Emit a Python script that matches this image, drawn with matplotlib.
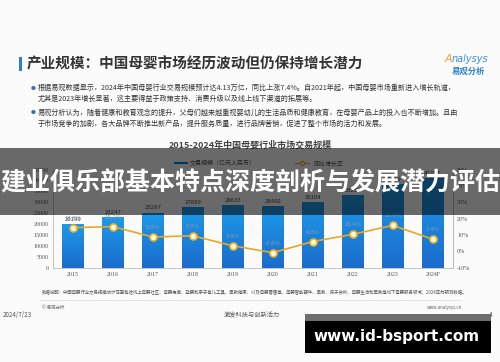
#!/usr/bin/env python3
"""Slide: 2015-2024 China maternal & infant market size, with banner overlay."""

import numpy as np
import matplotlib
matplotlib.use('Agg')
import matplotlib.pyplot as plt
from matplotlib.patches import Rectangle
from matplotlib.lines import Line2D

plt.rcParams['font.family'] = ['Noto Sans CJK SC', 'DejaVu Sans']

# --- data ---
years = ['2015', '2016', '2017', '2018', '2019', '2020', '2021', '2022', '2023', '2024F']
scale = [20199, 23247, 25287, 27689, 28633, 28400, 30104, 33235, 38519, 41257]
growth = [14.5, 15.1, 8.8, 9.5, 3.4, -0.8, 6.0, 10.4, 15.9, 7.4]

left_ticks = list(range(0, 45001, 5000))
right_ticks = list(range(-10, 51, 10))

title = '产业规模：中国母婴市场经历波动但仍保持增长潜力'
bullets = [
    ['根据易观数据显示，2024年中国母婴行业交易规模预计达4.13万亿，同比上涨7.4%。自2021年起，中国母婴市场重新进入增长轨道，',
     '尤其是2023年增长显著，这主要得益于政策支持、消费升级以及线上线下渠道的拓展等。'],
    ['易观分析认为，随着健康和教育观念的提升，父母们越来越重视婴幼儿的生活品质和健康教育，在母婴产品上的投入也不断增加。且由',
     '于市场竞争的加剧，各大品牌不断推出新产品，提升服务质量，进行品牌营销，促进了整个市场的活力和发展。'],
]
chart_title = '2015-2024年中国母婴行业市场交易规模'
banner = '建业俱乐部基本特点深度剖析与发展潜力评估'
note = ('数据说明：中国母婴行业交易规模统计范围包括线上母婴社区、母婴电商、孕婴和亲子育儿工具、早教健康、以及母婴零售等、'
        '母婴智能硬件、早教、月子会所、母婴生活和早教等线下母婴服务领域，2024年为预测数据。')

W, H = 500, 362


def fx(px):
    return px / W


def fy(py):
    return 1 - py / H


fig = plt.figure(figsize=(5.0, 3.62), dpi=100)
fig.patch.set_facecolor('#fbfbfb')

# header
fig.add_artist(Rectangle((fx(19), fy(71)), fx(3), 14 / H, transform=fig.transFigure,
                         color='#2f7fd0', lw=0))
fig.text(fx(27), fy(63), title, fontsize=10.5, fontweight='bold', color='#333333', va='center')
fig.text(fx(445), fy(59), 'A', fontsize=8, style='italic', color='#f0a030', va='center',
         family='DejaVu Sans')
fig.text(fx(452), fy(59), 'nalysys', fontsize=7, style='italic', color='#3a8ee0', va='center',
         family='DejaVu Sans')
fig.text(fx(452), fy(71), '易观分析', fontsize=6, fontweight='bold', color='#2a7fd0', va='center')

# bullets
ys = [88, 99, 113, 124]
i = 0
for para in bullets:
    fig.text(fx(31), fy(ys[i]), '●', fontsize=3.5, color='#2f6fc0', va='center')
    for line in para:
        fig.text(fx(38), fy(ys[i]), line, fontsize=5.1, color='#333333', va='center')
        i += 1

fig.text(0.5, fy(145), chart_title, fontsize=6.5, fontweight='bold', color='#444444',
         ha='center', va='center')

# legend
fig.add_artist(Line2D([fx(175), fx(187)], [fy(163)] * 2, transform=fig.transFigure,
                      color='#1a7fd0', lw=1.5))
fig.text(fx(190), fy(163), '交易规模（亿元人民币）', fontsize=4.3, color='#555555', va='center')
fig.add_artist(Line2D([fx(295), fx(309)], [fy(163)] * 2, transform=fig.transFigure,
                      color='#e8a825', lw=0.8))
fig.add_artist(Line2D([fx(302)], [fy(163)], transform=fig.transFigure, marker='o',
                      markersize=3, markerfacecolor='#fff8dc', markeredgecolor='#e8a825',
                      markeredgewidth=0.8))
fig.text(fx(313), fy(163), '同比增长率', fontsize=4.3, color='#555555', va='center')

# chart
ax = fig.add_axes([fx(52.8), fy(267.7), fx(400), (267.7 - 169.6) / H])
ax.set_facecolor('none')
x = np.arange(len(years))
bars = ax.bar(x, scale, width=0.55, color='#1e8fe0', zorder=2)
grad = np.linspace(0, 1, 100).reshape(-1, 1)
cmap = matplotlib.colors.LinearSegmentedColormap.from_list('b', ['#1a6ccc', '#1e9ae8'])
for b in bars:
    bx, by = b.get_x(), b.get_y()
    im = ax.imshow(grad, extent=[bx, bx + b.get_width(), by, by + b.get_height()],
                   origin='lower', aspect='auto', cmap=cmap, zorder=2)
    im.set_clip_path(b)
for xi, v in zip(x, scale):
    ax.annotate(str(v), (xi, v), xytext=(0, 1.5), textcoords='offset points',
                ha='center', va='bottom', fontsize=4.3, color='#444444')
ax.set_xlim(-0.5, 9.5)
ax.set_ylim(0, 45000)
ax.set_yticks(left_ticks)
ax.set_xticks(x)
ax.set_xticklabels(years)
ax.tick_params(labelsize=4.3, colors='#555555', length=0, pad=3)
for lab in ax.get_xticklabels() + ax.get_yticklabels():
    lab.set_family('Liberation Serif')
ax.spines['top'].set_visible(False)
for s in ['left', 'right', 'bottom']:
    ax.spines[s].set_color('#bbbbbb')
    ax.spines[s].set_linewidth(0.6)

ax2 = ax.twinx()
ax2.plot(x, growth, color='#e8a825', lw=1.2, marker='o', markersize=5,
         markerfacecolor='#fff8dc', markeredgecolor='#f0b428', markeredgewidth=1.2, zorder=3)
for xi, g in zip(x, growth):
    ax2.annotate(f'{g:.1f}%', (xi, g), xytext=(0, 5), textcoords='offset points',
                 ha='center', va='bottom', fontsize=4.3, color='#8a9bb0')
ax2.set_ylim(-10, 50)
ax2.set_yticks(right_ticks)
ax2.set_yticklabels([f'{t}%' for t in right_ticks])
ax2.tick_params(labelsize=4.3, colors='#555555', length=0, pad=3)
for lab in ax2.get_yticklabels():
    lab.set_family('Liberation Serif')
for s in ['top', 'left', 'bottom']:
    ax2.spines[s].set_visible(False)
ax2.spines['right'].set_color('#bbbbbb')
ax2.spines['right'].set_linewidth(0.6)

# footer
fig.text(fx(42), fy(293), note, fontsize=3.2, color='#555555', va='center')
fig.add_artist(Line2D([fx(40), fx(462)], [fy(300)] * 2, transform=fig.transFigure,
                      color='#bbbbbb', lw=0.5, ls=(0, (1, 1))))
fig.text(fx(42), fy(307), '© 易观分析', fontsize=3.2, color='#666666', va='center')
fig.text(fx(462), fy(307), 'www.analysys.cn', fontsize=3.2, color='#666666', va='center', ha='right')
fig.text(fx(3), fy(315), '2024/7/23', fontsize=4.5, color='#555555', va='center')
fig.text(fx(252), fy(315), '激发科技与创新活力', fontsize=4.5, color='#555555', va='center', ha='center')
fig.text(fx(492), fy(315), '4', fontsize=4.5, color='#555555', va='center', ha='right')

# banner overlay
fig.add_artist(Rectangle((0, fy(215)), 1, (215 - 148) / H, transform=fig.transFigure,
                         color='black', alpha=0.58, lw=0, zorder=10))
fig.text(0.5, fy(183), banner, fontsize=18, fontweight='bold', color='white',
         ha='center', va='center', zorder=11)

# site tag box
fig.add_artist(Rectangle((fx(305), fy(321)), fx(186), 7 / H, transform=fig.transFigure,
                         color='#6e6e6e', lw=0, zorder=10))
fig.add_artist(Rectangle((fx(305), fy(353)), fx(186), 32 / H, transform=fig.transFigure,
                         color='black', lw=0, zorder=10))
fig.text(fx(397), fy(337), 'www.id-bsport.com', fontsize=11, fontweight='bold', color='white',
         ha='center', va='center', zorder=11, family='DejaVu Sans')

fig.savefig('out.png', dpi=100, facecolor=fig.get_facecolor())
